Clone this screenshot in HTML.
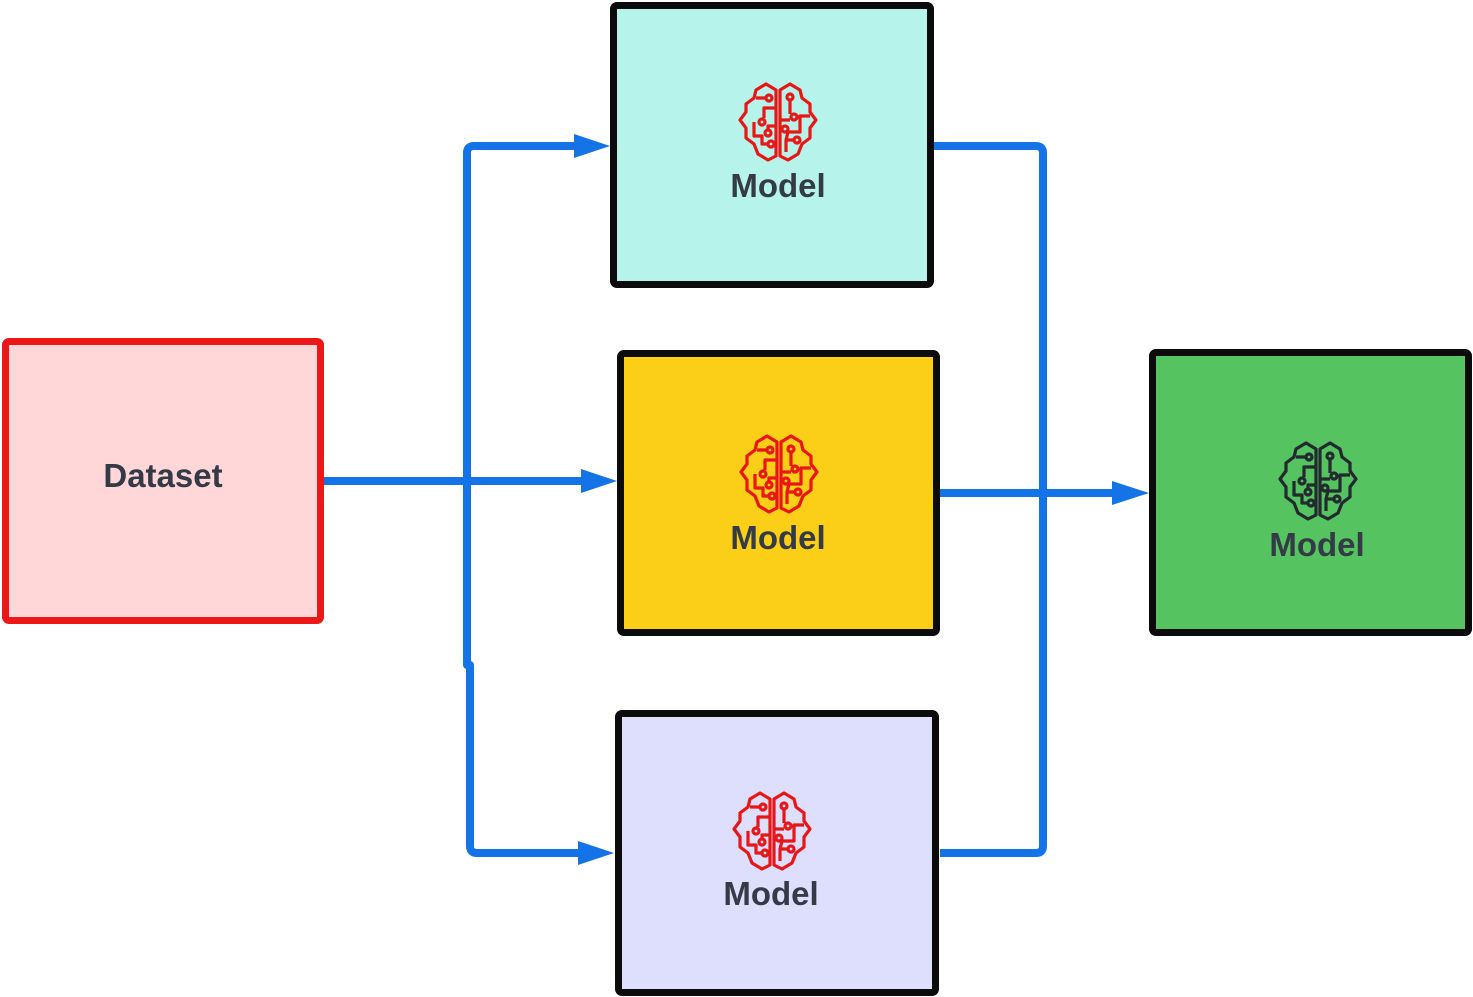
<!DOCTYPE html>
<html><head><meta charset="utf-8"><style>
html,body{margin:0;padding:0;background:#fff;}
body{width:1473px;height:997px;position:relative;overflow:hidden;font-family:"Liberation Sans",sans-serif;}
.b{position:absolute;box-sizing:border-box;border:7px solid #0b0b0b;border-radius:7px;}
.t{position:absolute;font-weight:bold;font-size:33px;color:#343a46;text-align:center;width:200px;}
svg{position:absolute;left:0;top:0;}
</style></head><body>
<div class="b" style="left:2px;top:338px;width:322px;height:286px;border-color:#ec1717;background:#ffd7d8"></div>
<div class="b" style="left:610px;top:2px;width:324px;height:286px;background:#b6f3ea"></div>
<div class="b" style="left:617px;top:350px;width:323px;height:286px;background:#fbcf17"></div>
<div class="b" style="left:615px;top:710px;width:324px;height:286px;background:#dddffd"></div>
<div class="b" style="left:1149px;top:349px;width:323px;height:287px;background:#55c360"></div>
<div class="t" style="left:63px;top:457px">Dataset</div>
<div class="t" style="left:678px;top:167px">Model</div>
<div class="t" style="left:678px;top:519px">Model</div>
<div class="t" style="left:671px;top:875px">Model</div>
<div class="t" style="left:1217px;top:526px">Model</div>
<svg width="1473" height="997" viewBox="0 0 1473 997">
<defs>
<g id="brain" fill="none" stroke-width="3.2" stroke-linejoin="round">
<path d="M38,8 L28,2 L18,8 L16,16 L8,22 L8,30 L2,38 L8,46 L8,56 L16,62 L20,72 L30,78 L38,74 Z"/>
<path d="M42,8 L52,2 L62,8 L64,16 L72,22 L72,30 L78,38 L72,46 L72,56 L64,62 L60,72 L50,78 L42,74 Z"/>
<path d="M18,16 L28,16 M38,26 L26,26 L26,36 M38,44 L30,44 L30,48 M16,40 L16,54 L24,54 L24,62 L30,62"/>
<path d="M52,18 L52,32 M42,38 L52,38 M72,34 L62,34 L62,50 L50,50 L48,58 L48,70 M48,58 L56,58"/>
<circle cx="31" cy="16" r="3"/><circle cx="24" cy="40" r="3"/><circle cx="30" cy="51" r="3"/><circle cx="33" cy="62" r="3"/>
<circle cx="52" cy="15" r="3"/><circle cx="56" cy="35" r="3"/><circle cx="47" cy="47" r="3"/><circle cx="59" cy="58" r="3"/>
</g>
</defs>
<use href="#brain" x="738" y="82" stroke="#e81616"/>
<use href="#brain" x="739" y="434" stroke="#e81616"/>
<use href="#brain" x="732" y="791" stroke="#e81616"/>
<use href="#brain" x="1278" y="441" stroke="#22292f"/>
<g fill="none" stroke="#1473e6" stroke-width="8" stroke-linejoin="round">
<path d="M324,481 L585,481"/>
<path d="M578,146 L474,146 Q467,146 467,153 L467,665 L470,665 L470,846 Q470,853 477,853 L582,853"/>
<path d="M934,146 L1036,146 Q1043,146 1043,153 L1043,846 Q1043,853 1036,853 L940,853"/>
<path d="M940,493 L1118,493"/>
</g>
<g fill="#1473e6">
<polygon points="574,134 610,146 574,158"/>
<polygon points="581,469 617,481 581,493"/>
<polygon points="578,841 614,853 578,865"/>
<polygon points="1112,481 1149,493 1112,505"/>
</g>
</svg>
</body></html>
